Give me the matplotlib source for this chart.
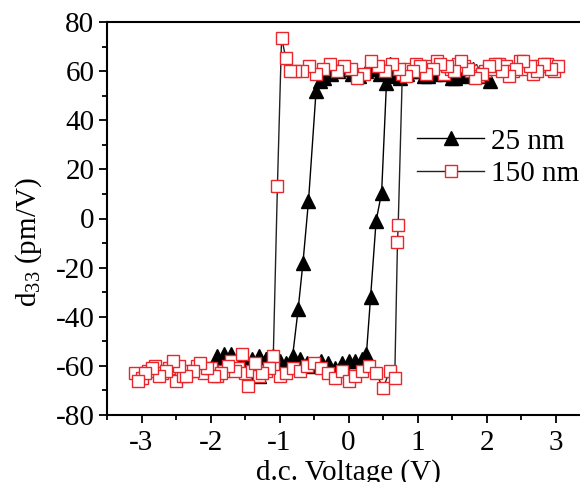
import matplotlib
matplotlib.use("Agg")
import matplotlib.pyplot as plt
from matplotlib.ticker import MultipleLocator

# ---------------- data ----------------
# 25 nm film (black triangles), loop order: lower branch up-sweep, jump, upper branch, down-sweep, jump, lower branch
v25 = [-1.90, -1.80, -1.70, -1.60, -1.50, -1.40, -1.30, -1.20, -1.10, -1.00, -0.90, -0.80,
       -0.70, -0.60, -0.50, -0.40, -0.30, -0.20, -0.10, 0.00, 0.10, 0.20,
       0.26, 0.32, 0.40, 0.48, 0.55, 0.60,
       0.70, 0.80, 0.90, 1.00, 1.10, 1.20, 1.30, 1.40, 1.50, 1.60, 1.70, 1.80, 1.90, 2.05,
       1.95, 1.85, 1.75, 1.65, 1.55, 1.45, 1.35, 1.25, 1.15, 1.05, 0.95, 0.85, 0.75, 0.65,
       0.55, 0.45, 0.35, 0.25, 0.15, 0.05, -0.05, -0.15, -0.25, -0.35,
       -0.42, -0.47, -0.58, -0.66, -0.73, -0.81,
       -0.90, -1.00, -1.10, -1.20, -1.30, -1.40, -1.50, -1.60, -1.70, -1.80, -1.90]
d25 = [-56, -58, -55, -57, -60, -57, -64, -57, -56, -59, -60, -58,
       -57, -59, -60, -58, -59, -61, -59, -58, -58, -57,
       -55, -32, -1, 10.5, 55, 63,
       60, 59, 61, 60, 58, 61, 60, 59, 57, 60, 58, 61, 59, 56,
       58, 60, 61, 59, 57, 60, 61, 59, 58, 60, 61, 59, 57, 58,
       60, 59, 61, 60, 58, 59, 61, 60, 59, 57,
       56, 52, 7, -18, -37, -56,
       -59, -58, -60, -57, -56, -63, -58, -57, -59, -55, -57]

# 150 nm film (red open squares)
v150 = [-3.10, -3.00, -2.90, -2.80, -2.70, -2.60, -2.50, -2.40, -2.30, -2.20, -2.10, -2.00,
        -1.90, -1.80, -1.70, -1.60, -1.50, -1.40, -1.30, -1.20, -1.10, -1.00, -0.90, -0.80,
        -0.70, -0.60, -0.50, -0.40, -0.30, -0.20, -0.10, 0.00, 0.10, 0.20, 0.30, 0.40,
        0.50, 0.60, 0.67, 0.71, 0.72,
        0.78, 0.88, 0.98, 1.08, 1.18, 1.28, 1.38, 1.48, 1.58, 1.68, 1.78, 1.88, 1.98,
        2.08, 2.18, 2.28, 2.38, 2.48, 2.58, 2.68, 2.78, 2.88, 2.98,
        3.03, 2.93, 2.83, 2.73, 2.63, 2.53, 2.43, 2.33, 2.23, 2.13, 2.03, 1.93, 1.83,
        1.73, 1.63, 1.53, 1.43, 1.33, 1.23, 1.13, 1.03, 0.93, 0.83, 0.73, 0.63, 0.53,
        0.43, 0.33, 0.23, 0.13, 0.03, -0.07, -0.17, -0.27, -0.37, -0.47, -0.57, -0.67,
        -0.77, -0.85, -0.91, -0.97, -1.03, -1.09,
        -1.15, -1.25, -1.35, -1.45, -1.55, -1.65, -1.75, -1.85, -1.95, -2.05, -2.15,
        -2.25, -2.35, -2.45, -2.55, -2.65, -2.75, -2.85, -2.95, -3.05]
d150 = [-63, -65, -62, -60, -63, -61, -66, -64, -62, -60, -63, -61,
        -64, -62, -58, -61, -63, -62, -64, -62, -60, -64, -63, -61,
        -62, -60, -59, -61, -63, -65, -62, -66, -64, -62, -60, -63,
        -69, -62, -65, -9.6, -2.8,
        59, 61, 63, 60, 62, 64, 59, 61, 63, 62, 60, 58, 60,
        61, 63, 62, 60, 64, 61, 59, 62, 63, 60,
        62, 61, 63, 60, 62, 64, 61, 58, 60, 63, 62, 59, 57,
        61, 64, 60, 62, 63, 61, 59, 62, 60, 58, 61, 63, 60,
        62, 64, 59, 57, 61, 62, 60, 63, 61, 59, 62, 60,
        60, 60, 65.5, 73.6, 13.4, -56,
        -61, -63, -59, -68, -55, -62, -60, -63, -64, -61, -59,
        -62, -64, -60, -58, -62, -64, -61, -63, -66]

xticks = [-3, -2, -1, 0, 1, 2, 3]
yticks = [-80, -60, -40, -20, 0, 20, 40, 60, 80]
labels = ["25 nm", "150 nm"]

# ---------------- style ----------------
plt.rcParams['font.family'] = ['Liberation Serif', 'DejaVu Serif']
plt.rcParams['mathtext.fontset'] = 'custom'
plt.rcParams['mathtext.rm'] = 'Liberation Serif'
plt.rcParams['mathtext.it'] = 'Liberation Serif:italic'
FS = 21

fig = plt.figure(figsize=(5.8, 4.82), dpi=100)
ax = fig.add_axes([107/580, 67/482, 483/580, 393/482])

ax.plot(v25, d25, color='black', lw=1.0, marker='^', ms=10, mfc='black', mec='black',
        label=labels[0], zorder=2)
ax.plot(v150, d150, color='#222222', lw=1.0, marker='s', ms=8, mfc='white', mec='#e8262b',
        mew=1.0, label=labels[1], zorder=3)

ax.set_xlim(-3.5, 3.5)
ax.set_ylim(-80, 80)
ax.set_xticks(xticks)
ax.set_yticks(yticks)
ax.xaxis.set_minor_locator(MultipleLocator(0.5))
ax.yaxis.set_minor_locator(MultipleLocator(10))
ax.tick_params(which='major', direction='out', length=6, width=1.3, labelsize=FS, pad=3)
ax.tick_params(which='minor', direction='out', length=3.5, width=1.3)
ax.tick_params(axis='x', which='major', pad=5)
for s in ['left', 'bottom', 'top']:
    ax.spines[s].set_linewidth(1.5)
ax.spines['right'].set_visible(False)
ax.set_xticklabels([str(t) for t in xticks])
ax.set_yticklabels([str(t) for t in yticks])

ax.set_ylabel('d$_{33}$ (pm/V)', fontsize=FS)
ax.yaxis.set_label_coords(-0.13, 0.44)
ax.set_xlabel('d.c. Voltage (V)', fontsize=FS)
ax.xaxis.set_label_coords(0.5, -0.112)

leg = ax.legend(loc='center left', bbox_to_anchor=(417/580, 1 - 157.5/482),
                bbox_transform=fig.transFigure, frameon=False, fontsize=FS,
                borderpad=0, borderaxespad=0, handlelength=2.3, handletextpad=0.25,
                labelspacing=0.2)

fig.savefig('out.png', dpi=100)
